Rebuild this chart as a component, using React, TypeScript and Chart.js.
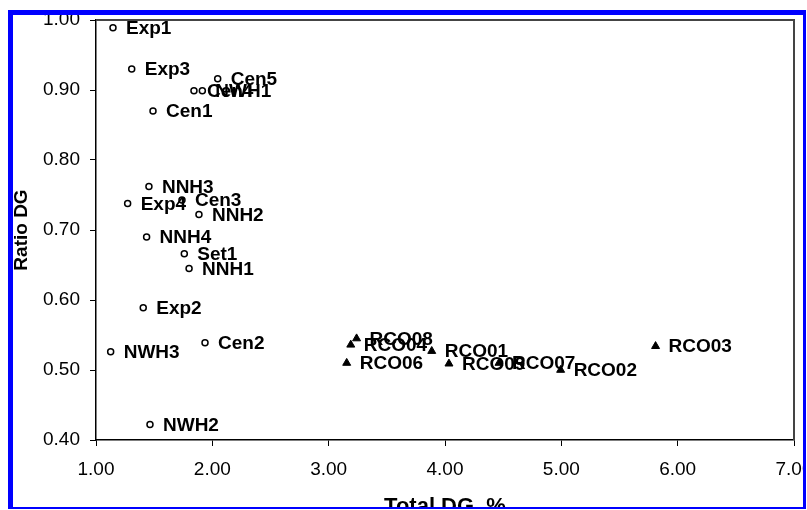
import React, { useEffect, useRef } from "react";
import { Chart, registerables } from "chart.js";

Chart.register(...registerables);

// Open-circle series
const circleLabels = ["Exp1", "Exp3", "Cen5", "Cen4", "NWH1", "Cen1", "NNH3", "Exp4", "Cen3", "NNH2", "NNH4", "Set1", "NNH1", "Exp2", "Cen2", "NWH3", "NWH2"];
const circleX = [1.146, 1.307, 2.046, 1.842, 1.914, 1.49, 1.455, 1.272, 1.739, 1.885, 1.435, 1.759, 1.8, 1.406, 1.937, 1.126, 1.464];
const circleY = [0.989, 0.93, 0.916, 0.899, 0.899, 0.87, 0.762, 0.738, 0.743, 0.722, 0.69, 0.666, 0.645, 0.589, 0.539, 0.526, 0.422];

// Filled-triangle series
const triLabels = ["RCO08", "RCO04", "RCO06", "RCO01", "RCO09", "RCO07", "RCO02", "RCO03"];
const triX = [3.24, 3.19, 3.155, 3.886, 4.034, 4.464, 4.994, 5.81];
const triY = [0.545, 0.536, 0.51, 0.527, 0.509, 0.51, 0.5, 0.534];

const xTitle = "Total DG, %";
const yTitle = "Ratio DG";

const FONT = "'Liberation Sans', Arial, Helvetica, sans-serif";

export default function App() {
  const ref = useRef<HTMLCanvasElement>(null);

  useEffect(() => {
    const canvas = ref.current;
    if (!canvas) return;

    const labelPlugin = {
      id: "pointLabels",
      afterDatasetsDraw(chart: any) {
        const ctx = chart.ctx;
        ctx.save();
        ctx.font = `bold 19px ${FONT}`;
        ctx.fillStyle = "#000";
        ctx.textBaseline = "middle";
        ctx.textAlign = "left";
        chart.data.datasets.forEach((ds: any, i: number) => {
          const meta = chart.getDatasetMeta(i);
          meta.data.forEach((el: any, j: number) => {
            ctx.fillText(ds.pointNames[j], el.x + 13, el.y + 1);
          });
        });
        ctx.restore();
      },
    };

    const framePlugin = {
      id: "frame",
      beforeDatasetsDraw(chart: any) {
        const { ctx, chartArea } = chart;
        ctx.save();
        ctx.strokeStyle = "#444";
        ctx.lineWidth = 2;
        ctx.beginPath();
        ctx.moveTo(chartArea.left, chartArea.top);
        ctx.lineTo(chartArea.right, chartArea.top);
        ctx.lineTo(chartArea.right, chartArea.bottom);
        ctx.stroke();
        ctx.restore();
      },
      afterDraw(chart: any) {
        const ctx = chart.ctx;
        ctx.save();
        ctx.fillStyle = "#fff";
        ctx.fillRect(0, 0, 807, 10);
        ctx.fillRect(0, 0, 8, 530);
        ctx.fillRect(806, 0, 1, 530);
        ctx.fillRect(0, 509, 807, 30);
        ctx.fillStyle = "#0000ff";
        ctx.fillRect(8, 10, 798, 5);
        ctx.fillRect(8, 10, 5, 499);
        ctx.fillRect(803, 10, 3, 499);
        ctx.fillRect(8, 507, 798, 2);
        ctx.restore();
      },
    };

    const chart = new Chart(canvas, {
      type: "scatter",
      data: {
        datasets: [
          {
            label: "circles",
            data: circleX.map((x, i) => ({ x, y: circleY[i] })),
            pointNames: circleLabels,
            pointStyle: "circle",
            pointRadius: 3,
            pointBorderWidth: 1.5,
            pointBorderColor: "#000",
            pointBackgroundColor: "#fff",
          } as any,
          {
            label: "triangles",
            data: triX.map((x, i) => ({ x, y: triY[i] })),
            pointNames: triLabels,
            pointStyle: "triangle",
            pointRadius: 4.6,
            pointBorderWidth: 1,
            pointBorderColor: "#000",
            pointBackgroundColor: "#000",
          } as any,
        ],
      },
      options: {
        responsive: false,
        animation: false,
        devicePixelRatio: 1,
        layout: { padding: { left: 0, top: 20, right: 13, bottom: 0 } },
        plugins: {
          legend: { display: false },
          tooltip: { enabled: false },
        },
        scales: {
          x: {
            type: "linear",
            min: 1,
            max: 7,
            afterFit: (s: any) => {
              s.height = 90;
              s.paddingLeft = 0;
              s.paddingRight = 0;
            },
            ticks: {
              stepSize: 1,
              color: "#000",
              padding: 12,
              font: { family: FONT, size: 19 },
              callback: (v: any) => Number(v).toFixed(2),
            },
            grid: { drawOnChartArea: false, drawTicks: true, tickLength: 6, color: "#000" },
            border: { display: true, color: "#000", width: 1.5 },
            title: {
              display: true,
              text: xTitle,
              color: "#000",
              font: { family: FONT, size: 22, weight: "bold" },
              padding: { top: 0, bottom: 10 },
            },
          },
          y: {
            type: "linear",
            min: 0.4,
            max: 1.0,
            afterFit: (s: any) => {
              s.width = 96;
              s.paddingTop = 0;
              s.paddingBottom = 0;
            },
            ticks: {
              stepSize: 0.1,
              color: "#000",
              padding: 10,
              font: { family: FONT, size: 19 },
              callback: (v: any) => Number(v).toFixed(2),
            },
            grid: { drawOnChartArea: false, drawTicks: true, tickLength: 6, color: "#000" },
            border: { display: true, color: "#000", width: 1.5 },
            title: {
              display: true,
              text: yTitle,
              color: "#000",
              font: { family: FONT, size: 19, weight: "bold" },
              padding: { top: 10, bottom: 0 },
            },
          },
        },
      },
      plugins: [labelPlugin, framePlugin],
    } as any);

    return () => chart.destroy();
  }, []);

  return (
    <div style={{ position: "absolute", left: 0, top: 0, width: 807, height: 510, overflow: "hidden", background: "#fff" }}>
      <canvas ref={ref} width={807} height={530} style={{ display: "block", width: 807, height: 530 }} />
    </div>
  );
}
